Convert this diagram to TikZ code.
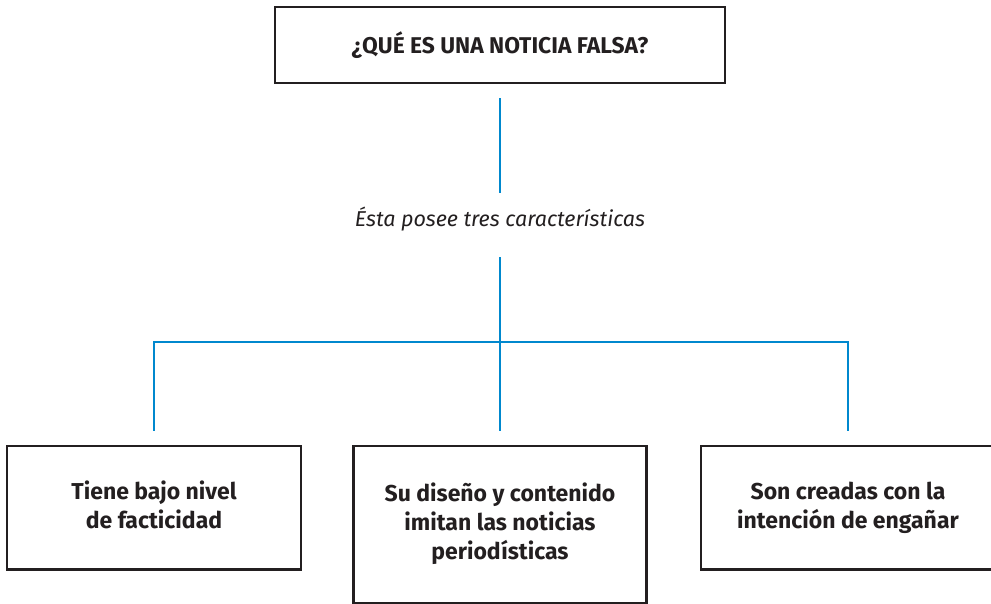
\documentclass[tikz,border=0pt]{standalone}
\usepackage{fontspec}
\setmainfont{Fira Sans}
\definecolor{azul}{HTML}{0088CE}
\definecolor{tinta}{HTML}{231F20}
\tikzset{cbox/.style = {shape = rectangle,
                        draw = tinta,
                        line width = 1.3pt,
                        text = tinta,
                        align = center,
                        inner sep = 0pt,
                        minimum width = 147pt,
                        minimum height = 61.75pt,
                        font = \fontsize{11.5}{14.5}\selectfont\bfseries}}

\begin{document}
\begin{tikzpicture}[link/.style = {draw = azul,
                                   line width = 1.35pt,
                                   shorten <= 7pt,
                                   shorten >= 7pt}]
    \useasboundingbox (0,0) rectangle (495.5pt,-302pt);
		\node[cbox, minimum width = 225pt, minimum height = 38pt,
		      font = \fontsize{11.4}{13}\selectfont\bfseries] (titulo) at (250pt,-22.5pt) {¿QUÉ ES UNA NOTICIA FALSA?};
		\node[anchor = base, inner sep = 0pt, text height = 10pt, text depth = 8pt,
		      text = tinta, font = \fontsize{10.75}{13}\selectfont\itshape] (nota) at (250pt,-113.5pt) {Ésta posee tres características};
		\node[cbox] (uno) at (77pt,-253.9pt) {\strut Tiene bajo nivel\\de facticidad\strut};
		\node[cbox, minimum width = 146.5pt, minimum height = 78.5pt] (dos) at (250pt,-262.25pt) {\strut Su diseño y contenido\\imitan las noticias\\periodísticas\strut};
		\node[cbox] (tres) at (424pt,-253.9pt) {\strut Son creadas con la\\intención de engañar\strut};
		\coordinate (cruce) at (250pt,-171pt);
		\path[link] (titulo) edge (nota);
		\path[link] (nota) edge (dos);
		\draw[link] (uno) |- (cruce) -| (tres);
	\end{tikzpicture}
\end{document}
